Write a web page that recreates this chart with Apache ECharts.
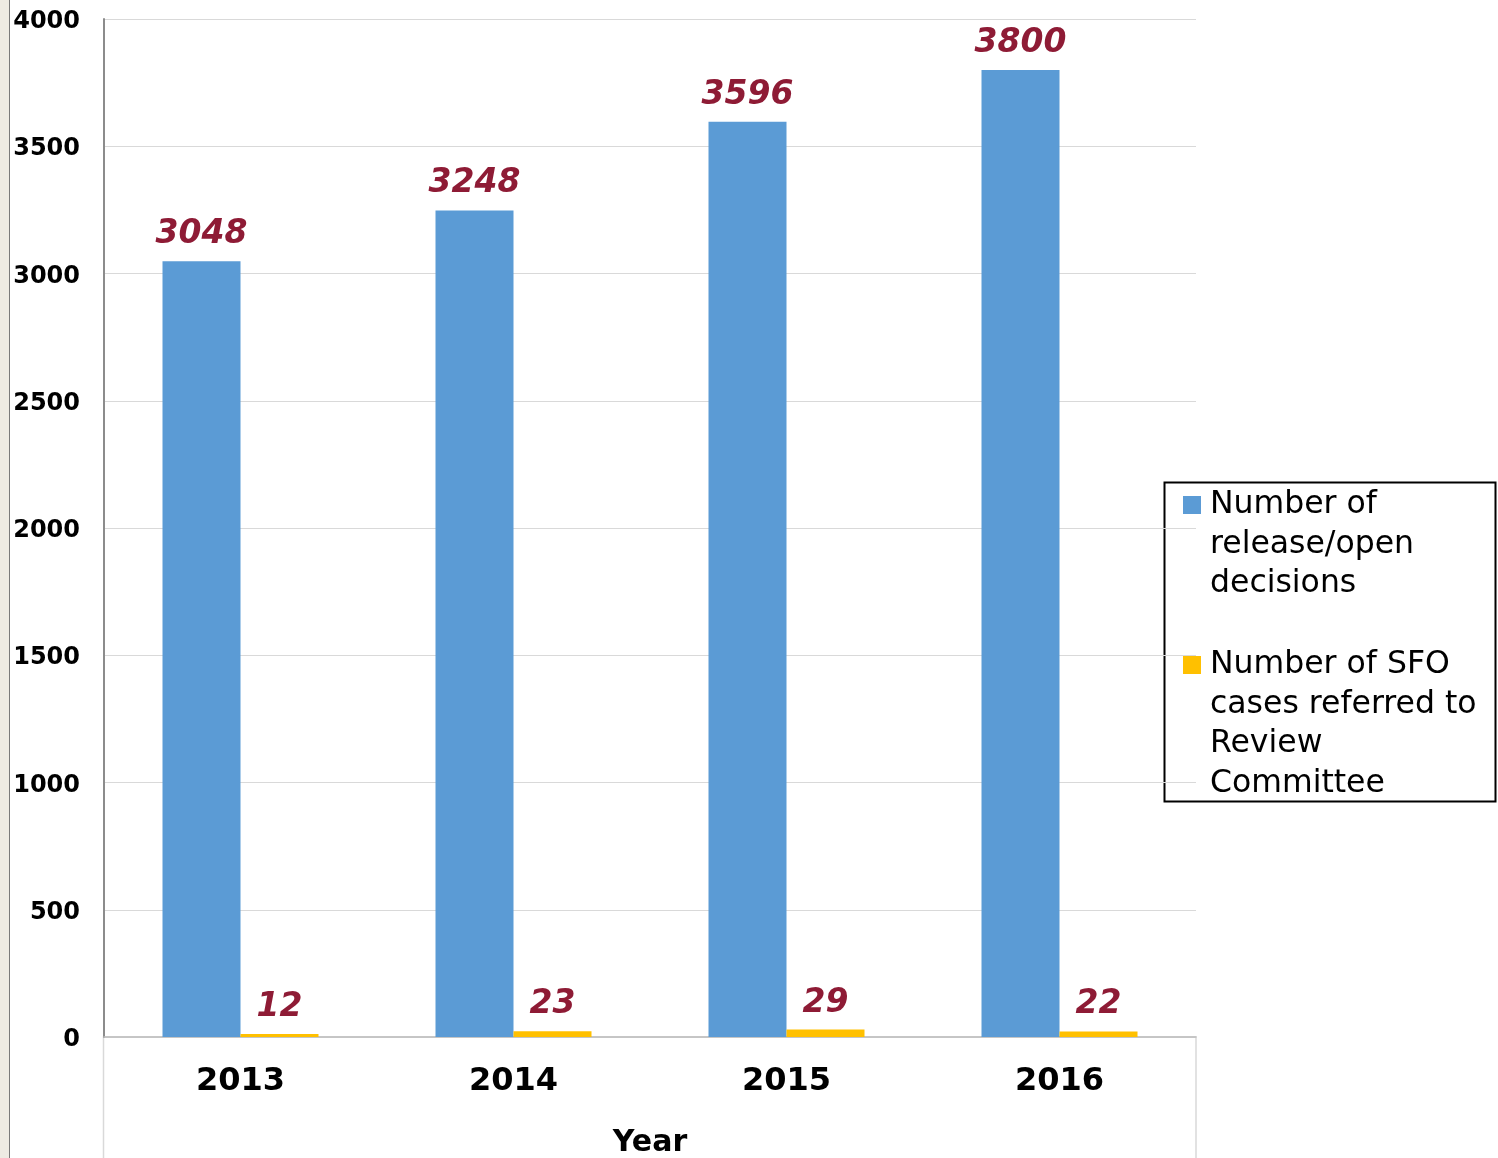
<!DOCTYPE html>
<html>
<head>
<meta charset="utf-8">
<script src="https://cdn.jsdelivr.net/npm/echarts@6/dist/echarts.min.js"></script>
<style>
  html, body { margin: 0; padding: 0; background: #fff; }
  #chart { width: 1498px; height: 1158px; }
</style>
</head>
<body>
<div id="chart"></div>
<script>
  // data
  const years = ['2013', '2014', '2015', '2016'];
  const releaseDecisions = [3048, 3248, 3596, 3800];
  const sfoReferred = [12, 23, 29, 22];
  const seriesNames = [
    'Number of\nrelease/open\ndecisions',
    'Number of SFO\ncases referred to\nReview\nCommittee'
  ];

  const font = 'DejaVu Sans, Verdana, sans-serif';
  const labelColor = '#8e1b35';

  // legend icon: square placed on the first text line, bbox padded to 22 x 158
  const iconFirst = 'path://M0,30.5h18v18h-18z M0,0h0.01v0.01h-0.01z M22,158h0.01v0.01h-0.01z';
  const iconSecond = 'path://M0,10.75h18v18h-18z M0,0h0.01v0.01h-0.01z M22,158h0.01v0.01h-0.01z';

  const chart = echarts.init(document.getElementById('chart'));

  const valueLabel = {
    show: true,
    position: 'top',
    distance: 10,
    color: labelColor,
    fontFamily: font,
    fontSize: 33,
    fontWeight: 'bold',
    fontStyle: 'italic'
  };

  chart.setOption({
    animation: false,
    textStyle: { fontFamily: font },
    graphic: [
      { type: 'rect', shape: { x: 0, y: 0, width: 9, height: 1158 }, style: { fill: '#eeebe3' } },
      { type: 'rect', shape: { x: 9, y: 0, width: 1, height: 1158 }, style: { fill: '#7a7a7a' } },
      {
        type: 'rect', z: -1,
        shape: { x: 103.5, y: 1037, width: 1092.5, height: 130 },
        style: { fill: 'none', stroke: '#d9d9d9', lineWidth: 1.5 }
      },
      {
        type: 'rect',
        shape: { x: 1164.5, y: 482.5, width: 331, height: 319 },
        style: { fill: 'none', stroke: '#000', lineWidth: 2 }
      }
    ],
    grid: { left: 104, right: 302, top: 19, bottom: 121, containLabel: false, outerBoundsMode: 'none' },
    legend: {
      orient: 'vertical',
      left: 1183,
      top: 465.5,
      padding: 0,
      itemWidth: 22,
      itemHeight: 158,
      itemGap: 21.75,
      selectedMode: false,
      data: [
        { name: seriesNames[0], icon: iconFirst },
        { name: seriesNames[1], icon: iconSecond }
      ],
      textStyle: {
        color: '#000',
        fontFamily: font,
        fontSize: 31.5,
        lineHeight: 39.5
      }
    },
    xAxis: {
      type: 'category',
      data: years,
      name: 'Year',
      nameLocation: 'middle',
      nameGap: 91,
      nameTextStyle: { color: '#000', fontSize: 30, fontWeight: 'bold', fontFamily: font },
      axisLine: { show: true, lineStyle: { color: '#bfbfbf', width: 1.5 } },
      axisTick: { show: false },
      axisLabel: { color: '#000', fontSize: 32, fontWeight: 'bold', margin: 29, fontFamily: font }
    },
    yAxis: {
      type: 'value',
      min: 0,
      max: 4000,
      interval: 500,
      axisLine: { show: true, lineStyle: { color: '#8c8c8c', width: 2 } },
      axisTick: { show: false },
      axisLabel: {
        color: '#000', fontSize: 24, fontWeight: 'bold', margin: 24, fontFamily: font,
        verticalAlign: 'top',
        lineHeight: 6,
        formatter: v => String(v)
      },
      splitLine: { lineStyle: { color: '#d9d9d9', width: 1 } }
    },
    series: [
      {
        name: seriesNames[0],
        type: 'bar',
        data: releaseDecisions,
        barWidth: 78,
        barGap: '0%',
        itemStyle: { color: '#5b9bd5' },
        label: valueLabel
      },
      {
        name: seriesNames[1],
        type: 'bar',
        data: sfoReferred,
        barWidth: 78,
        barGap: '0%',
        itemStyle: { color: '#ffc000' },
        label: valueLabel
      }
    ]
  });
</script>
</body>
</html>
